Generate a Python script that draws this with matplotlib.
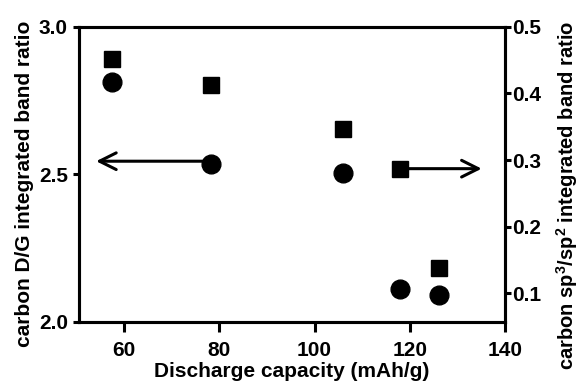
import matplotlib
matplotlib.use("Agg")
import matplotlib.pyplot as plt

# Discharge capacity (mAh/g) and Raman band ratios
capacity_dg = [57.4, 78.2, 106.0, 117.9, 126.1]
dg_ratio = [2.815, 2.535, 2.504, 2.112, 2.092]

capacity_sp = [57.4, 78.2, 106.0, 117.9, 126.1]
sp3_sp2_ratio = [0.452, 0.413, 0.347, 0.287, 0.137]

x_ticks = [60, 80, 100, 120, 140]
left_ticks = [2.0, 2.5, 3.0]
right_ticks = [0.1, 0.2, 0.3, 0.4, 0.5]

plt.rcParams['font.family'] = ['Liberation Sans', 'DejaVu Sans']
plt.rcParams['font.weight'] = 'bold'
plt.rcParams['mathtext.fontset'] = 'custom'
plt.rcParams['mathtext.bf'] = 'Liberation Sans:bold'
plt.rcParams['mathtext.rm'] = 'Liberation Sans:bold'
plt.rcParams['mathtext.default'] = 'bf'

fig = plt.figure(figsize=(5.82, 3.91), dpi=100)
ax = fig.add_axes([0.1357, 0.1765, 0.732, 0.7545])
ax2 = ax.twinx()

ax.plot(capacity_dg, dg_ratio, 'o', color='black', markersize=13.5, zorder=3)
ax2.plot(capacity_sp, sp3_sp2_ratio, 's', color='black', markersize=12, zorder=3)

ax.set_xlim(50.5, 140)
ax.set_ylim(2.0, 3.0)
ax2.set_ylim(0.0565, 0.5)

ax.set_xticks(x_ticks)
ax.set_yticks(left_ticks)
ax2.set_yticks(right_ticks)
ax.set_yticklabels([f"{v:.1f}" for v in left_ticks])
ax2.set_yticklabels([f"{v:.1f}" for v in right_ticks])

for a in (ax, ax2):
    for s in a.spines.values():
        s.set_linewidth(2.2)

ax.tick_params(axis='x', direction='out', length=7, width=2.2, labelsize=15, pad=7)
ax.tick_params(axis='y', direction='out', length=4, width=2.2, labelsize=15, pad=4)
ax2.tick_params(axis='y', direction='out', length=4, width=2.2, labelsize=15, pad=1)
for lbl in ax.get_xticklabels() + ax.get_yticklabels() + ax2.get_yticklabels():
    lbl.set_fontweight('bold')

ax.set_xlabel("Discharge capacity (mAh/g)", fontsize=15, fontweight='bold', labelpad=1)
ax.set_ylabel("carbon D/G integrated band ratio", fontsize=15, fontweight='bold')
ax.yaxis.set_label_coords(-0.105, 0.47)
ax2.set_ylabel(r"carbon sp$^{3}$/sp$^{2}$ integrated band ratio", fontsize=14.5,
               fontweight='bold')
ax2.yaxis.set_label_coords(1.115, 0.43)

# Arrows pointing to the axis each series belongs to
arrow_kw = dict(arrowstyle='->,head_length=0.6,head_width=0.3', lw=2.2,
                color='black', mutation_scale=20, shrinkA=0, shrinkB=0)
ax.annotate('', xy=(54.1, dg_ratio[1] + 0.01), xytext=(capacity_dg[1], dg_ratio[1] + 0.01),
            arrowprops=arrow_kw, zorder=2)
ax2.annotate('', xy=(135.1, sp3_sp2_ratio[3]), xytext=(capacity_sp[3], sp3_sp2_ratio[3]),
             arrowprops=arrow_kw, zorder=2)

fig.savefig("out.png", dpi=100)
